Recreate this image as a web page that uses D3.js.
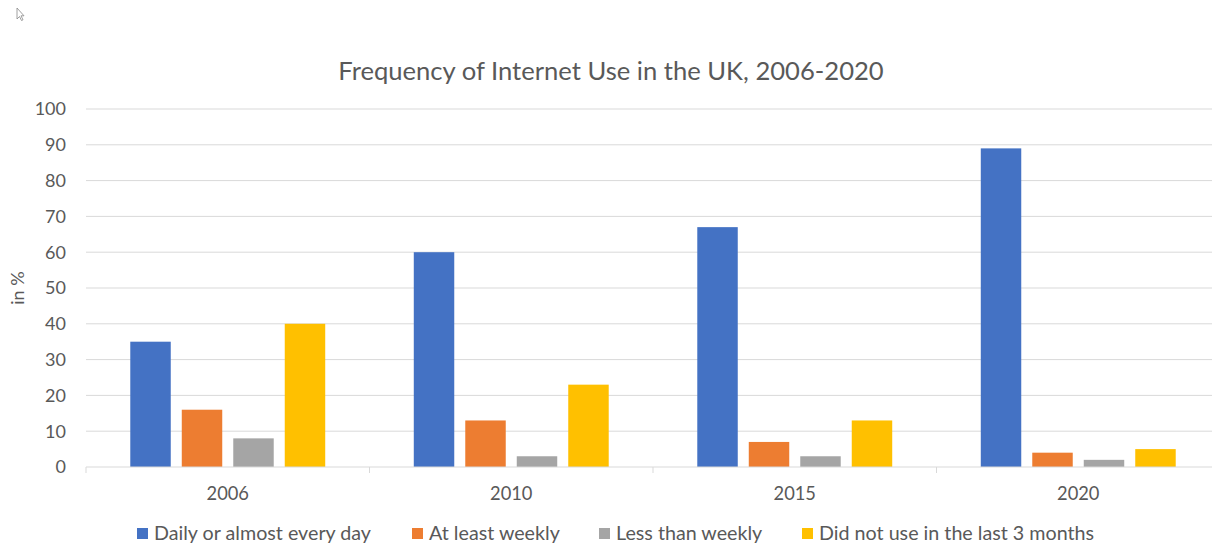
<!DOCTYPE html>
<html>
<head>
<meta charset="utf-8">
<script src="https://cdn.jsdelivr.net/npm/d3@7"></script>
<style>
  body { margin: 0; background: #fff; overflow: hidden; }
  text { font-family: Lato, "Open Sans", sans-serif; fill: #595959; }
</style>
</head>
<body>
<div id="container"></div>
<script>
const years = ["2006", "2010", "2015", "2020"]
const seriesNames = ["Daily or almost every day", "At least weekly", "Less than weekly", "Did not use in the last 3 months"]
const daily = [35, 60, 67, 89]
const weekly = [16, 13, 7, 4]
const lessWeekly = [8, 3, 3, 2]
const notUsed = [40, 23, 13, 5]
const yTicks = [0, 10, 20, 30, 40, 50, 60, 70, 80, 90, 100]
const colors = ["#4472c4", "#ed7d31", "#a5a5a5", "#ffc000"]

const width = 1212, height = 546
// the plot runs a little past the right edge of the screenshot
const margin = { top: 109, right: -8, bottom: 79, left: 86 }
const series = [daily, weekly, lessWeekly, notUsed]

const svg = d3.select("#container").append("svg")
    .attr("width", width).attr("height", height)

// little mouse pointer left over from the screenshot
svg.append("path")
    .attr("d", "M17,8 L17,19 L19.5,16.5 L21.5,20.5 L23,19.8 L21,15.8 L24,15.8 Z")
    .attr("fill", "#fff").attr("stroke", "#888").attr("stroke-width", 0.8)

const x0 = d3.scaleBand().domain(years)
    .range([margin.left, width - margin.right])
const x1 = d3.scaleBand().domain(d3.range(series.length))
    .range([0, x0.bandwidth()]).paddingInner(0.214).paddingOuter(0.86)
const y = d3.scaleLinear().domain([0, 100])
    .range([height - margin.bottom, margin.top])

// gridlines
svg.append("g").selectAll("line").data(yTicks.slice(1)).join("line")
    .attr("x1", margin.left).attr("x2", width - margin.right)
    .attr("y1", d => y(d)).attr("y2", d => y(d))
    .attr("stroke", "#d9d9d9").attr("stroke-width", 1)

// y tick labels
svg.append("g").selectAll("text").data(yTicks).join("text")
    .attr("x", 66).attr("y", d => y(d)).attr("dy", "0.35em")
    .attr("text-anchor", "end").attr("font-size", 18)
    .text(d => d)

// bars
years.forEach((yr, i) => {
    svg.append("g").selectAll("rect").data(series.map((s, k) => ({ k, v: s[i] }))).join("rect")
        .attr("x", d => x0(yr) + x1(d.k))
        .attr("width", x1.bandwidth())
        .attr("y", d => y(d.v))
        .attr("height", d => y(0) - y(d.v))
        .attr("fill", d => colors[d.k])
})

// x axis line and category ticks
svg.append("line")
    .attr("x1", margin.left).attr("x2", width - margin.right)
    .attr("y1", y(0)).attr("y2", y(0))
    .attr("stroke", "#d9d9d9")
const bounds = years.map(d => x0(d)).concat([x0(years[years.length - 1]) + x0.bandwidth()])
svg.append("g").selectAll("line").data(bounds).join("line")
    .attr("x1", d => d).attr("x2", d => d)
    .attr("y1", y(0)).attr("y2", y(0) + 6)
    .attr("stroke", "#d9d9d9")
svg.append("g").selectAll("text").data(years).join("text")
    .attr("x", d => x0(d) + x0.bandwidth() / 2).attr("y", 500)
    .attr("text-anchor", "middle").attr("font-size", 18.3)
    .text(d => d)

// title
svg.append("text")
    .attr("x", 611).attr("y", 80)
    .attr("text-anchor", "middle").attr("font-size", 25.6)
    .text("Frequency of Internet Use in the UK, 2006-2020")

// y axis label
svg.append("text")
    .attr("transform", "translate(24,288) rotate(-90)")
    .attr("text-anchor", "middle").attr("font-size", 18)
    .text("in %")

// legend
const legendX = [137, 412, 599, 802]
const legend = svg.append("g").selectAll("g").data(seriesNames).join("g")
    .attr("transform", (d, i) => `translate(${legendX[i]},528)`)
legend.append("rect").attr("width", 11).attr("height", 11)
    .attr("fill", (d, i) => colors[i])
legend.append("text").attr("x", 17).attr("y", 11.5)
    .attr("font-size", 19.7).text(d => d)
</script>
</body>
</html>
